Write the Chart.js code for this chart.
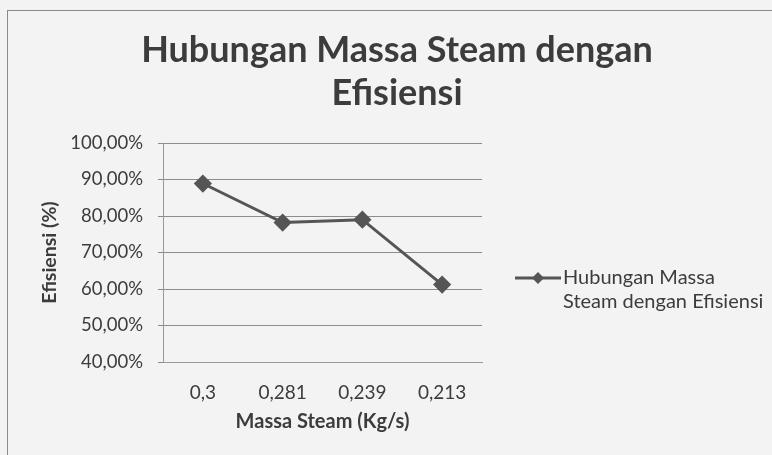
<!DOCTYPE html>
<html lang="id">
<head>
<meta charset="UTF-8">
<title>Hubungan Massa Steam dengan Efisiensi</title>
<script src="https://cdn.jsdelivr.net/npm/chart.js@4/dist/chart.umd.min.js"></script>
<style>
  html, body { margin: 0; padding: 0; background: #f3f3f3; }
  #wrap { position: relative; width: 772px; height: 455px; overflow: hidden; }
  #frame { position: absolute; left: 7px; top: 10px; width: 800px; height: 500px;
           border-top: 1px solid #8a8a8a; border-left: 1px solid #8a8a8a; }
  canvas { position: absolute; left: 0; top: 0; }
</style>
</head>
<body>
<div id="wrap">
  <div id="frame"></div>
  <canvas id="c" width="772" height="455"></canvas>
</div>
<script>
// data
const massaSteam = ['0,3', '0,281', '0,239', '0,213'];
const efisiensi  = [88.9, 78.2, 79.0, 61.2];
const yTicks     = [40, 50, 60, 70, 80, 90, 100];
const titleLines = ['Hubungan Massa Steam dengan', 'Efisiensi'];
const seriesName = ['Hubungan Massa', 'Steam dengan Efisiensi'];

const FONT = 'Lato, "Open Sans", sans-serif';
const LINE = '#555555';
const TEXT = '#3c3c3c';

// title + legend drawn by hand: Excel centres the title over the whole frame
// and wraps the legend label onto two lines
const excelBits = {
  id: 'excelBits',
  afterDraw(chart) {
    const ctx = chart.ctx;
    ctx.save();
    ctx.fillStyle = TEXT;
    ctx.textAlign = 'center';
    ctx.textBaseline = 'alphabetic';
    ctx.font = 'bold 36px ' + FONT;
    ctx.fillText(titleLines[0], 397, 62);
    ctx.fillText(titleLines[1], 397, 105);

    const x0 = 515, y0 = 278;
    ctx.strokeStyle = LINE;
    ctx.lineWidth = 3;
    ctx.beginPath();
    ctx.moveTo(x0, y0); ctx.lineTo(x0 + 46, y0);
    ctx.stroke();
    ctx.fillStyle = LINE;
    const cx = x0 + 23, r = 6;
    ctx.beginPath();
    ctx.moveTo(cx, y0 - r); ctx.lineTo(cx + r, y0); ctx.lineTo(cx, y0 + r); ctx.lineTo(cx - r, y0);
    ctx.closePath(); ctx.fill();
    ctx.fillStyle = TEXT;
    ctx.textAlign = 'left';
    ctx.textBaseline = 'middle';
    ctx.font = '20px ' + FONT;
    ctx.fillText(seriesName[0], 563, y0);
    ctx.fillText(seriesName[1], 563, y0 + 24);
    ctx.restore();
  }
};

new Chart(document.getElementById('c'), {
  type: 'line',
  plugins: [excelBits],
  data: {
    labels: massaSteam,
    datasets: [{
      label: seriesName.join(' '),
      data: efisiensi,
      borderColor: LINE,
      backgroundColor: LINE,
      borderWidth: 3,
      pointStyle: 'rectRot',
      pointRadius: 7,
      pointHoverRadius: 7,
      tension: 0
    }]
  },
  options: {
    responsive: false,
    animation: false,
    layout: { padding: { left: 30, right: 290, top: 143, bottom: 0 } },
    plugins: {
      legend: { display: false },
      tooltip: { enabled: false },
      title: { display: false }
    },
    scales: {
      x: {
        offset: true,
        grid: { display: false, drawTicks: false },
        border: { color: '#999' },
        ticks: { color: TEXT, font: { family: FONT, size: 19 }, padding: 19 },
        title: { display: true, text: 'Massa Steam (Kg/s)', color: TEXT,
                 font: { family: FONT, size: 20, weight: 'bold' }, padding: { top: 4, bottom: 21 } },
        afterFit: (s) => { s.height = 93; }
      },
      y: {
        min: 40, max: 100,
        afterBuildTicks: (s) => { s.ticks = yTicks.map(v => ({ value: v })); },
        grid: { color: '#8c8c8c', tickLength: 5, tickColor: '#8c8c8c' },
        border: { color: '#999' },
        ticks: { color: TEXT, font: { family: FONT, size: 18.5 }, padding: 15,
                 callback: (v) => v.toFixed(2).replace('.', ',') + '%' },
        title: { display: true, text: 'Efisiensi (%)', color: TEXT,
                 font: { family: FONT, size: 19.5, weight: 'bold' }, padding: { top: 8, bottom: 8 } },
        afterFit: (s) => { s.width = 133; }
      }
    }
  }
});
</script>
</body>
</html>
